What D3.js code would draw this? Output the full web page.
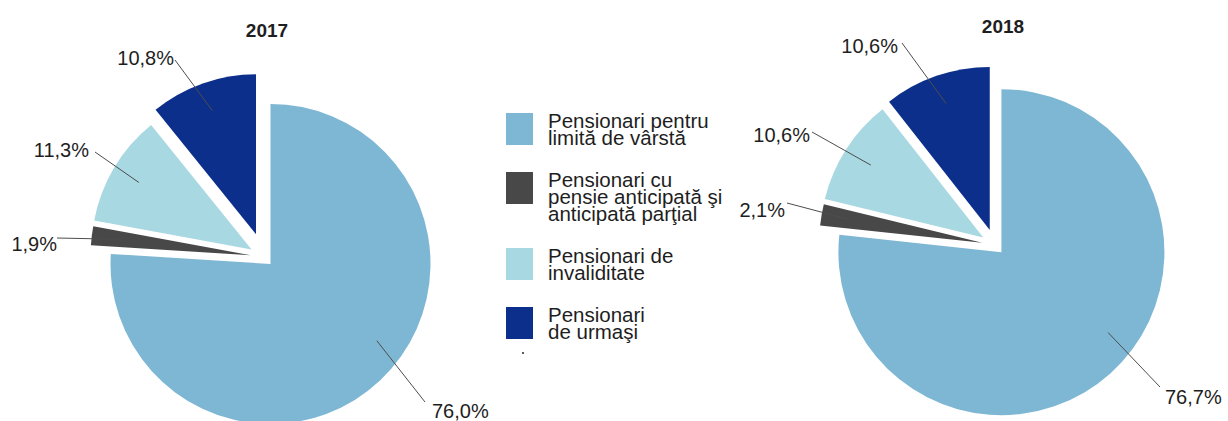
<!DOCTYPE html>
<html>
<head>
<meta charset="utf-8">
<script src="https://cdn.jsdelivr.net/npm/d3@7"></script>
<style>
  html, body { margin: 0; padding: 0; background: #ffffff; }
  svg { display: block; }
  text { font-family: "Liberation Sans", Arial, sans-serif; fill: #1e1e1e; }
</style>
</head>
<body>
<svg id="chart" width="1228" height="421"></svg>
<script>
// Pension categories, in slice order (clockwise from 12 o'clock)
const categories = [
  "Pensionari pentru limită de vârstă",
  "Pensionari cu pensie anticipată şi anticipată parţial",
  "Pensionari de invaliditate",
  "Pensionari de urmaşi"
];
const legendLines = [
  ["Pensionari pentru", "limită de vârstă"],
  ["Pensionari cu", "pensie anticipată şi", "anticipată parţial"],
  ["Pensionari de", "invaliditate"],
  ["Pensionari", "de urmaşi"]
];
const years = ["2017", "2018"];
const values2017 = [76.0, 1.9, 11.3, 10.8];
const values2018 = [76.7, 2.1, 10.6, 10.6];

// ---- styling / layout ----
const colors = ["#7eb7d4", "#484848", "#a8d8e2", "#0c2f8b"];
const leaderAt = [0.46, 0.5, 0.5, 0.5];    // position of leader foot inside the slice (angle fraction)
const leaderDepth = 0.82;                  // radius fraction of leader foot

const pies = [
  { year: years[0], values: values2017, cx: 264, cy: 257, r: 160, titleX: 267, titleY: 37,
    explode: [9.5, 13.5, 14.5, 24],        // px, along each slice bisector
    // label anchors (leader start) and text positions relative to pie centre
    labels: [
      { ax: 161, ay: 145, tx: 168, ty: 161, anchor: "start" },
      { ax: -207, ay: -19, tx: -207, ty: -6, anchor: "end" },
      { ax: -169, ay: -105, tx: -175, ty: -100, anchor: "end" },
      { ax: -89, ay: -197, tx: -90, ty: -192, anchor: "end" }
    ] },
  { year: years[1], values: values2018, cx: 995, cy: 245, r: 163, titleX: 1003, titleY: 33,
    explode: [9.6, 13, 14, 16],
    labels: [
      { ax: 165, ay: 142, tx: 170, ty: 159, anchor: "start" },
      { ax: -208, ay: -42, tx: -210, ty: -28, anchor: "end" },
      { ax: -183, ay: -113, tx: -185, ty: -103, anchor: "end" },
      { ax: -93, ay: -202, tx: -97, ty: -192, anchor: "end" }
    ] }
];

const svg = d3.select("#chart");
const pie = d3.pie().sort(null).value(d => d);
const fmt = v => d3.format(".1f")(v).replace(".", ",") + "%";

pies.forEach(p => {
  const g = svg.append("g").attr("transform", `translate(${p.cx},${p.cy})`);
  const arc = d3.arc().innerRadius(0).outerRadius(p.r);
  const arcs = pie(p.values);

  arcs.forEach((a, i) => {
    const mid = (a.startAngle + a.endAngle) / 2;
    const ox = p.explode[i] * Math.sin(mid);
    const oy = -p.explode[i] * Math.cos(mid);
    const slice = g.append("g").attr("transform", `translate(${ox},${oy})`);
    slice.append("path").attr("d", arc(a)).attr("fill", colors[i]);

    // leader foot inside the slice
    const ang = a.startAngle + leaderAt[i] * (a.endAngle - a.startAngle);
    const fx = ox + leaderDepth * p.r * Math.sin(ang);
    const fy = oy - leaderDepth * p.r * Math.cos(ang);
    const L = p.labels[i];
    g.append("line")
      .attr("x1", L.ax).attr("y1", L.ay)
      .attr("x2", fx).attr("y2", fy)
      .attr("stroke", "#4d4d4d").attr("stroke-width", 1);
    g.append("text")
      .attr("x", L.tx).attr("y", L.ty)
      .attr("text-anchor", L.anchor)
      .attr("font-size", 20)
      .text(fmt(p.values[i]));
  });

  svg.append("text")
    .attr("x", p.titleX).attr("y", p.titleY)
    .attr("text-anchor", "middle")
    .attr("font-size", 19).attr("font-weight", "bold")
    .text(p.year);
});

// ---- legend (tight multi-line entries) ----
const legend = svg.append("g").attr("transform", "translate(506,113)");
const lineH = 17;
let yPos = 0;
categories.forEach((c, i) => {
  const item = legend.append("g").attr("transform", `translate(0,${yPos})`);
  item.append("rect").attr("width", 27).attr("height", 32).attr("fill", colors[i]);
  const t = item.append("text").attr("x", 42).attr("y", 15).attr("font-size", 20.5);
  legendLines[i].forEach((ln, j) => {
    t.append("tspan").attr("x", 42).attr("y", 15 + j * lineH).text(ln);
  });
  yPos += legendLines[i].length * lineH + 25;
});
legend.append("circle").attr("cx", 17).attr("cy", 240).attr("r", 1.1).attr("fill", "#333");
</script>
</body>
</html>
